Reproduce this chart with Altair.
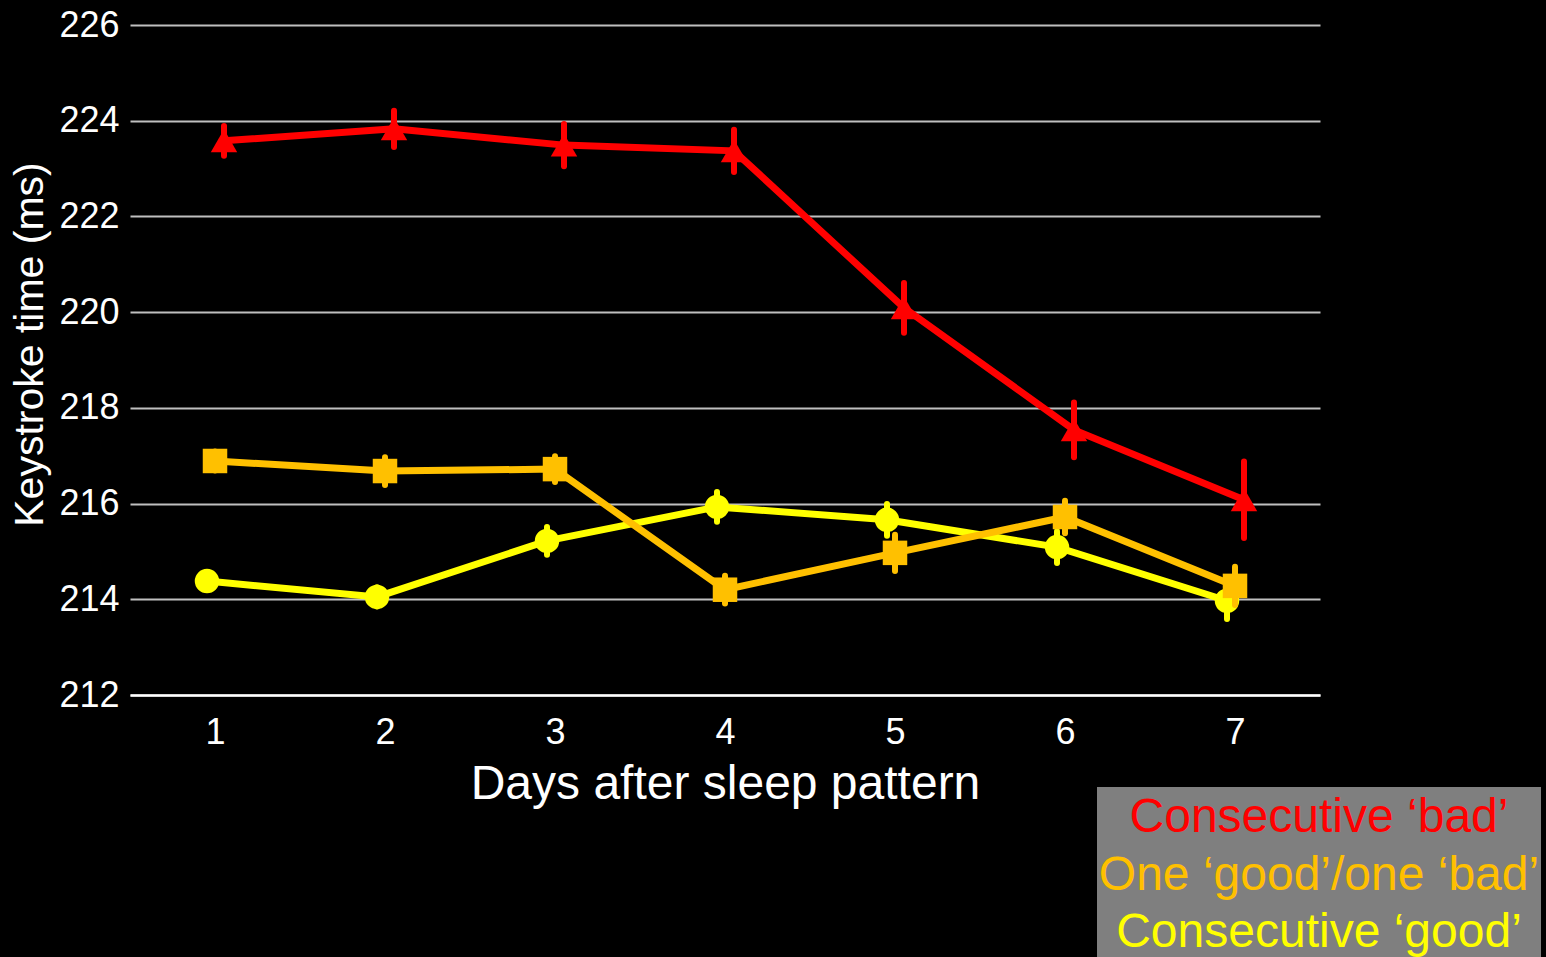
import altair as alt
import pandas as pd

# Keystroke time by day after each sleep pattern (mean and error half-width, ms)
days = [1, 2, 3, 4, 5, 6, 7]

bad_bad_mean = [223.58, 223.83, 223.49, 223.37, 220.09, 217.54, 216.08]
bad_bad_err = [0.31, 0.38, 0.44, 0.44, 0.52, 0.57, 0.80]

good_bad_mean = [216.89, 216.68, 216.72, 214.20, 214.97, 215.72, 214.28]
good_bad_err = [0.20, 0.29, 0.27, 0.29, 0.38, 0.34, 0.40]

good_good_mean = [214.38, 214.05, 215.22, 215.93, 215.66, 215.09, 213.97]
good_good_err = [0.15, 0.20, 0.29, 0.31, 0.33, 0.33, 0.38]

series_names = ["Consecutive \u2018bad\u2019", "One \u2018good\u2019/one \u2018bad\u2019", "Consecutive \u2018good\u2019"]
series_colors = ["#FF0000", "#FFC000", "#FFFF00"]
series_shapes = ["triangle-up", "square", "circle"]
series_means = [bad_bad_mean, good_bad_mean, good_good_mean]
series_errs = [bad_bad_err, good_bad_err, good_good_err]
# small horizontal nudge (px) so the series do not sit exactly on top of each other
series_nudge = [9, 0, -8]

y_ticks = [212, 214, 216, 218, 220, 222, 224, 226]

FONT = "Liberation Sans"
W, H = 1190, 670

x_scale = alt.Scale(domain=[0.5, 7.5], nice=False, zero=False)
y_scale = alt.Scale(domain=[212, 226], nice=False, zero=False)

x_axis = alt.Axis(
    values=days, title="Days after sleep pattern", grid=False, ticks=False,
    domain=True, domainColor="#FFFFFF", domainWidth=2.5,
    labelFontSize=36, labelColor="#FFFFFF", labelFont=FONT, labelPadding=20,
    titleFontSize=48, titleColor="#FFFFFF", titleFont=FONT, titleFontWeight="normal",
    titlePadding=10,
)
y_axis = alt.Axis(
    values=y_ticks, title="Keystroke time (ms)", grid=True, gridColor="#BFBFBF",
    gridWidth=2, ticks=False, domain=False,
    labelFontSize=36, labelColor="#FFFFFF", labelFont=FONT, labelPadding=11,
    titleFontSize=41, titleColor="#FFFFFF", titleFont=FONT, titleFontWeight="normal",
    titleX=-100, titleY=319, titleAlign="center", titleBaseline="middle", titleAngle=-90,
)


def X(field):
    return alt.X(field, scale=x_scale, axis=x_axis)


def Y(field):
    return alt.Y(field, scale=y_scale, axis=y_axis)


layers = []
# draw order: yellow first, red on top
for i in [2, 1, 0]:
    df = pd.DataFrame({
        "day": days,
        "mean": series_means[i],
        "lo": [m - e for m, e in zip(series_means[i], series_errs[i])],
        "hi": [m + e for m, e in zip(series_means[i], series_errs[i])],
    })
    c = series_colors[i]
    dx = series_nudge[i]
    base = alt.Chart(df)
    line = base.mark_line(color=c, strokeWidth=7, xOffset=dx).encode(
        x=X("day:Q"), y=Y("mean:Q"),
    )
    err = base.mark_rule(color=c, strokeWidth=6, strokeCap="round", xOffset=dx).encode(
        x=X("day:Q"), y=Y("lo:Q"), y2="hi:Q",
    )
    pts = base.mark_point(
        shape=series_shapes[i], filled=True, color=c, opacity=1,
        size=700 if series_shapes[i] == "triangle-up" else 600,
        xOffset=dx,
    ).encode(
        x=X("day:Q"), y=Y("mean:Q"),
    )
    layers += [line, err, pts]

# legend box with coloured series names
box_df = pd.DataFrame({"k": [0]})
legend_box = alt.Chart(box_df).mark_rect(color="#7F7F7F", clip=False).encode(
    x=alt.value(967), x2=alt.value(1411), y=alt.value(762), y2=alt.value(940),
)
layers.append(legend_box)
legend_y = [793, 851, 908]
for i in range(3):
    tdf = pd.DataFrame({"label": [series_names[i]]})
    layers.append(
        alt.Chart(tdf).mark_text(
            font=FONT, fontSize=48, color=series_colors[i], align="center",
            baseline="middle", clip=False,
        ).encode(text="label:N", x=alt.value(1189), y=alt.value(legend_y[i]))
    )

chart = alt.layer(*layers).properties(
    width=W, height=H,
    autosize=alt.AutoSizeParams(type="none"),
    padding={"left": 130, "top": 25, "right": 226, "bottom": 262},
).configure(background="#000000").configure_view(stroke=None)

chart.save("out.html", embed_options={"renderer": "svg", "actions": False})
